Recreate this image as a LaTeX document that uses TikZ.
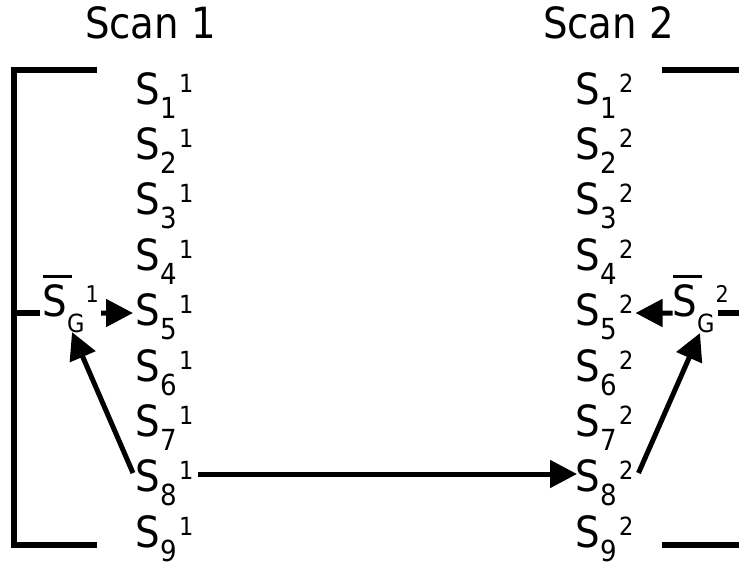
\documentclass[tikz,border=0pt]{standalone}
\usepackage{fontspec}
\setmainfont{DejaVu Sans}[FakeStretch=0.9]
\usetikzlibrary{arrows.meta}
\newcommand\slab[2]{S\raisebox{-14pt}{\fontsize{29}{29}\selectfont #1}\kern2.5pt\raisebox{12pt}{\fontsize{25}{25}\selectfont #2}}
\newcommand\sgbar[1]{\makebox[0pt][l]{\kern0.5pt\raisebox{38.5pt}{\rule{28.5pt}{2.5pt}}}S\raisebox{-16pt}{\fontsize{25}{25}\selectfont G}\kern1pt\raisebox{14pt}{\fontsize{23}{23}\selectfont #1}}
\tikzset{
  lab/.style={anchor=base west, inner sep=0pt, outer sep=0pt, font=\fontsize{43}{50}\selectfont},
  brk/.style={line width=5.5pt},
  arr/.style={line width=5pt, -{Triangle[length=27pt,width=27pt]}}
}
\begin{document}
\begin{tikzpicture}[x=1pt,y=-1pt]
\useasboundingbox (0,0) rectangle (739,568);
% titles
\node[lab] (scan1) at (85,38) {Scan 1};
\node[lab] (scan2) at (543,38) {Scan 2};
% columns
\foreach \i in {1,...,9}{
  \node[lab] (s1\i) at (135.5,{104+(\i-1)*55.4}) {\slab{\i}{1}};
  \node[lab] (s2\i) at (575.5,{104+(\i-1)*55.4}) {\slab{\i}{2}};
}
% S_G bars
\node[lab] (sg1) at (42.5,316) {\sgbar{1}};
\node[lab] (sg2) at (672.5,316) {\sgbar{2}};
% brackets
\draw[brk] (97,70) -- (14,70) -- (14,545) -- (97,545);
\draw[brk] (14,313) -- (40,313);
\draw[brk] (662,70) -- (739,70);
\draw[brk] (662,545) -- (739,545);
\draw[brk] (718,313) -- (739,313);
% arrows
\draw[arr] ([shift={(58.5pt,3pt)}]sg1.base west) -- ([shift={(-2.5pt,12.6pt)}]s15.base west);
\draw[arr] ([yshift=3pt]sg2.base west) -- ([shift={(60pt,12.6pt)}]s25.base west);
\draw[arr] ([shift={(62.5pt,17.8pt)}]s18.base west) -- ([shift={(1.5pt,17.8pt)}]s28.base west);
\draw[arr] ([shift={(-2.5pt,18.8pt)}]s18.base west) -- ([shift={(29.5pt,-16pt)}]sg1.base west);
\draw[arr] ([shift={(63pt,18.8pt)}]s28.base west) -- ([shift={(27.5pt,-17pt)}]sg2.base west);
\end{tikzpicture}
\end{document}
